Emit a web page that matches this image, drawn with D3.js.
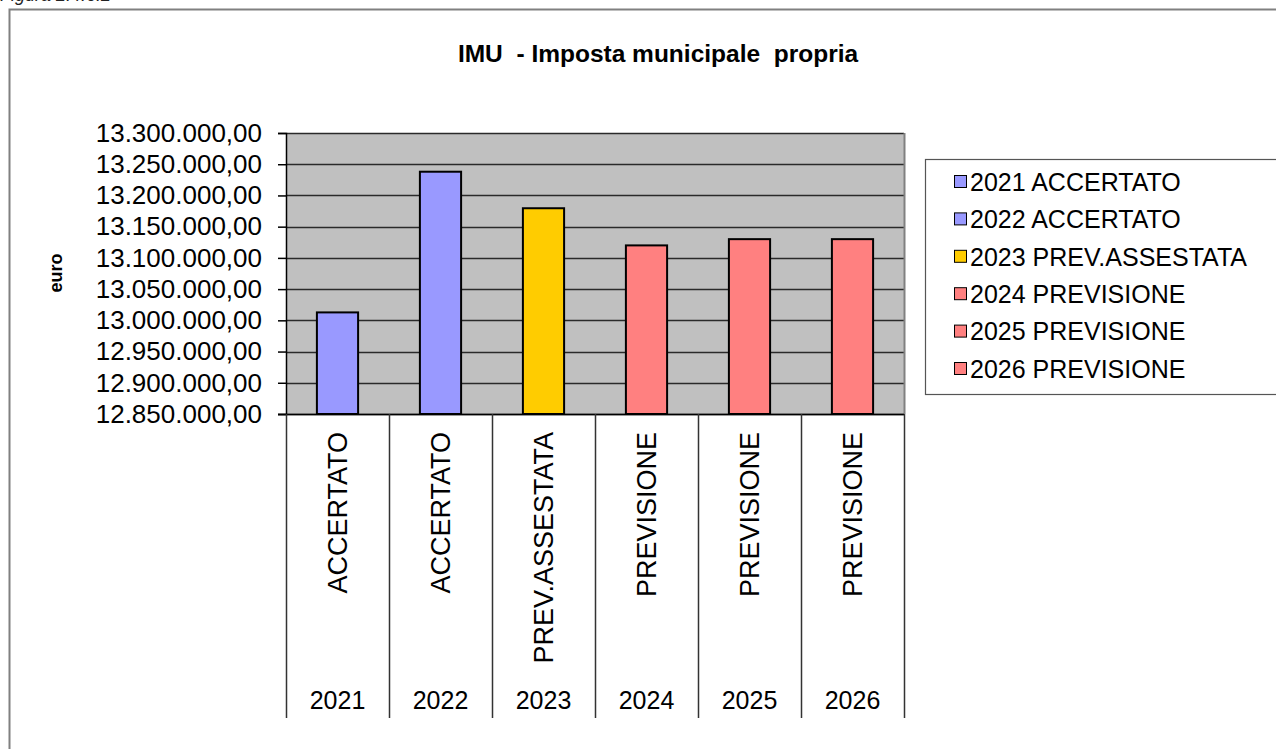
<!DOCTYPE html>
<html>
<head>
<meta charset="utf-8">
<script src="https://cdn.jsdelivr.net/npm/d3@7"></script>
<style>
  html, body { margin: 0; padding: 0; background: #fff; }
  svg { display: block; font-family: "Liberation Sans", Arial, sans-serif; }
</style>
</head>
<body>
<svg id="chart" width="1276" height="749"></svg>
<script>
// ---- data ----
const years = ["2021", "2022", "2023", "2024", "2025", "2026"];
const stages = ["ACCERTATO", "ACCERTATO", "PREV.ASSESTATA", "PREVISIONE", "PREVISIONE", "PREVISIONE"];
const values = [13012700, 13238000, 13179500, 13120000, 13130000, 13130000];
const barColors = ["#9999FF", "#9999FF", "#FFCC00", "#FF8080", "#FF8080", "#FF8080"];
const yTicks = [12850000, 12900000, 12950000, 13000000, 13050000, 13100000, 13150000, 13200000, 13250000, 13300000];
const yDomain = [12850000, 13300000];
const titleText = "IMU  - Imposta municipale  propria";
const yAxisTitle = "euro";
const figureLabel = "Figura 2.4.6.2";

// ---- layout ----
const svg = d3.select("#chart");
const plot = { left: 286, right: 904, top: 133, bottom: 414 };
const catBottom = 718;

const locale = d3.formatLocale({ decimal: ",", thousands: ".", grouping: [3], currency: ["", "€"] });
const fmt = locale.format(",.2f");

const x = d3.scaleBand().domain(years).range([plot.left, plot.right]).paddingInner(0).paddingOuter(0);
const y = d3.scaleLinear().domain(yDomain).range([plot.bottom, plot.top]);

// figure label (cut off at top, as in the source)
svg.append("text").attr("x", 0).attr("y", 1)
  .attr("font-size", 18).attr("font-style", "italic").attr("fill", "#222")
  .text(figureLabel);

// outer frame
svg.append("rect").attr("x", 9.5).attr("y", 9.5).attr("width", 1300).attr("height", 800)
  .attr("fill", "none").attr("stroke", "#808080").attr("stroke-width", 2);

// title
svg.append("text").attr("x", 658).attr("y", 62).attr("text-anchor", "middle")
  .attr("font-size", 24.5).attr("font-weight", "bold").attr("fill", "#000")
  .attr("xml:space", "preserve").style("white-space", "pre")
  .text(titleText);

// plot background
svg.append("rect").attr("x", plot.left).attr("y", plot.top)
  .attr("width", plot.right - plot.left).attr("height", plot.bottom - plot.top)
  .attr("fill", "#C0C0C0");

// gridlines
svg.append("g").selectAll("line").data(yTicks).join("line")
  .attr("x1", plot.left).attr("x2", plot.right)
  .attr("y1", d => Math.round(y(d)) + 0.5).attr("y2", d => Math.round(y(d)) + 0.5)
  .attr("stroke", "#2a2a2a").attr("stroke-width", 1.5);

// plot border (right)
svg.append("line").attr("x1", plot.right + 0.5).attr("x2", plot.right + 0.5)
  .attr("y1", plot.top).attr("y2", plot.bottom).attr("stroke", "#808080").attr("stroke-width", 2);

// bars
const barW = x.bandwidth() * 0.4;
svg.append("g").selectAll("rect").data(years).join("rect")
  .attr("x", (d) => x(d) + (x.bandwidth() - barW) / 2)
  .attr("y", (d, i) => y(values[i]))
  .attr("width", barW)
  .attr("height", (d, i) => y(yDomain[0]) - y(values[i]))
  .attr("fill", (d, i) => barColors[i])
  .attr("stroke", "#000").attr("stroke-width", 2);

// y axis
const yAxis = d3.axisLeft(y).tickValues(yTicks).tickFormat(fmt).tickSize(8).tickPadding(16);
const gy = svg.append("g").attr("transform", `translate(${plot.left},0)`).call(yAxis);
gy.select(".domain").attr("stroke", "#000").attr("stroke-width", 1.5);
gy.selectAll(".tick line").attr("stroke", "#000").attr("stroke-width", 1.5);
gy.selectAll(".tick text").attr("font-size", 26).attr("fill", "#000")
  .attr("font-family", "'Liberation Sans', Arial, sans-serif");

// y axis title
svg.append("text").attr("transform", "translate(62,273) rotate(-90)")
  .attr("text-anchor", "middle").attr("font-size", 18).attr("font-weight", "bold")
  .text(yAxisTitle);

// x axis baseline
svg.append("line").attr("x1", plot.left - 8).attr("x2", plot.right)
  .attr("y1", plot.bottom + 0.5).attr("y2", plot.bottom + 0.5)
  .attr("stroke", "#000").attr("stroke-width", 1.5);

// category separators
const bounds = years.map(d => x(d)).concat([plot.right]);
svg.append("g").selectAll("line").data(bounds).join("line")
  .attr("x1", d => Math.round(d) + 0.5).attr("x2", d => Math.round(d) + 0.5)
  .attr("y1", plot.bottom).attr("y2", catBottom)
  .attr("stroke", "#333").attr("stroke-width", 1.5);

// stage labels (rotated)
svg.append("g").selectAll("text").data(years).join("text")
  .attr("transform", d => `translate(${x(d) + x.bandwidth() / 2},432) rotate(-90)`)
  .attr("text-anchor", "end").attr("dy", "0.35em")
  .attr("font-size", 27).attr("fill", "#000")
  .text((d, i) => stages[i]);

// year labels
svg.append("g").selectAll("text").data(years).join("text")
  .attr("x", d => x(d) + x.bandwidth() / 2).attr("y", 709)
  .attr("text-anchor", "middle").attr("font-size", 25).attr("fill", "#000")
  .text(d => d);

// legend
const legend = svg.append("g");
legend.append("rect").attr("x", 925.5).attr("y", 159.5).attr("width", 400).attr("height", 235)
  .attr("fill", "#fff").attr("stroke", "#555").attr("stroke-width", 1.2);
const rowY = d3.scalePoint().domain(years).range([182, 369]);
const items = legend.selectAll("g.item").data(years).join("g").attr("class", "item")
  .attr("transform", d => `translate(0,${rowY(d)})`);
items.append("rect").attr("x", 954.5).attr("y", -6.5).attr("width", 12).attr("height", 12)
  .attr("fill", (d, i) => barColors[i]).attr("stroke", "#000").attr("stroke-width", 1);
items.append("text").attr("x", 970).attr("y", 0).attr("dy", "0.35em")
  .attr("font-size", 25).attr("fill", "#000")
  .text((d, i) => `${d} ${stages[i]}`);
</script>
</body>
</html>
